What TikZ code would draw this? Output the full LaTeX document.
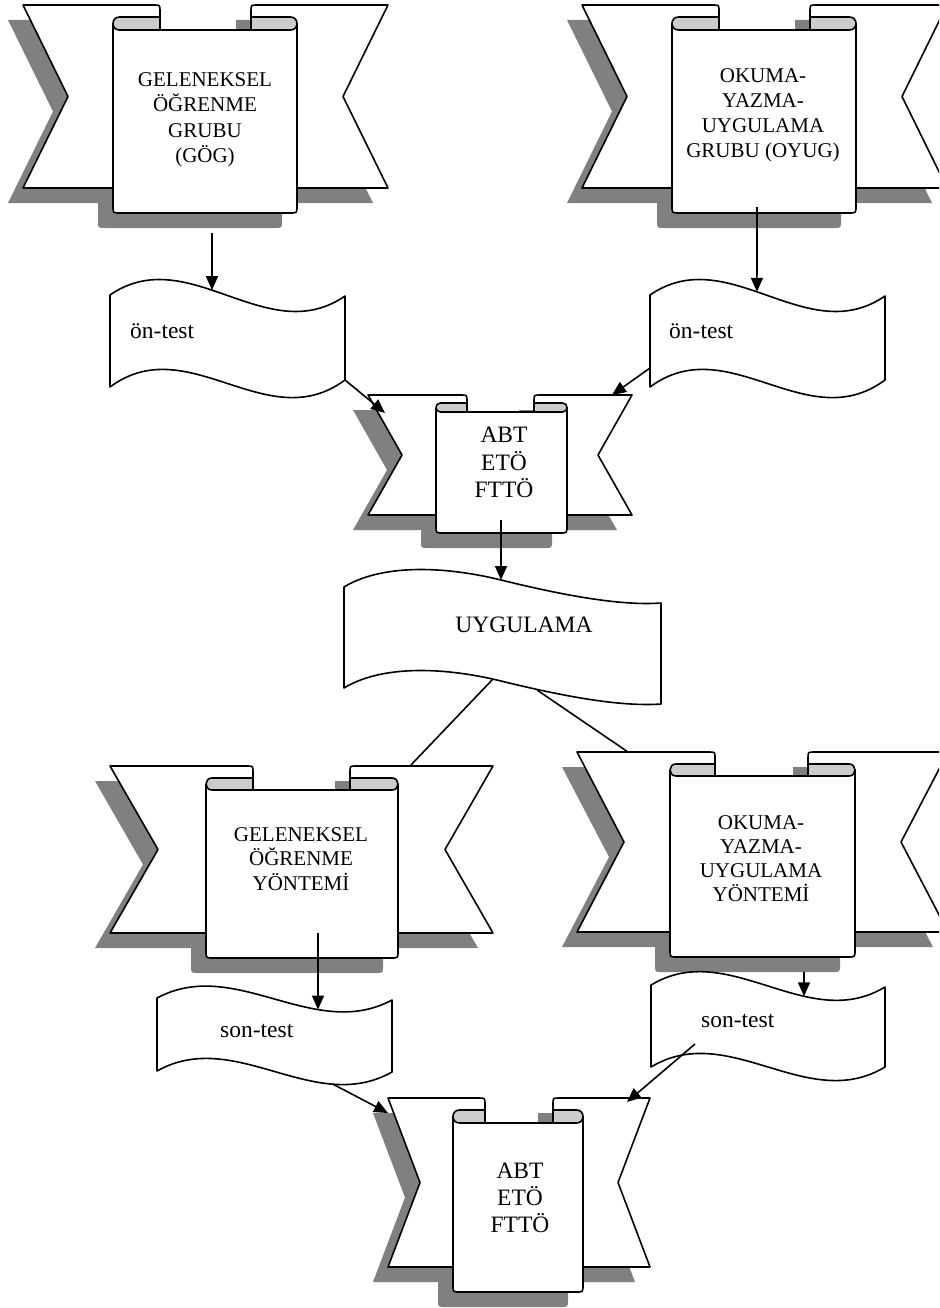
\documentclass[tikz,border=0pt]{standalone}
\usepackage{fontspec}
\setmainfont{Liberation Serif}
\usetikzlibrary{arrows.meta}
\definecolor{shadowgray}{RGB}{128,128,128}
\definecolor{curlgray}{RGB}{204,204,204}
\tikzset{
  rbline/.style={draw=black, line width=1.6pt, line join=round},
  arr/.style={draw=black, line width=1.6pt, -{Triangle[length=14pt,width=12pt]}},
  conn/.style={draw=black, line width=1.6pt},
  bigtxt/.style={inner sep=0pt, align=center, anchor=north},
  wavetxt/.style={inner sep=0pt, font=\fontsize{23.5}{28}\selectfont},
}
% ribbon: L R yTop yBot notch pL pR yRim yPanelTop | yPanelBot curlL curlR
\def\rbRibbon#1#2#3#4#5#6#7#8#9{\def\rbL{#1}\def\rbR{#2}\def\rbT{#3}\def\rbB{#4}\def\rbD{#5}\def\rbPL{#6}\def\rbPR{#7}\def\rbYR{#8}\def\rbYT{#9}\rbRibbonB}
\def\rbRibbonB#1#2#3{\def\rbYP{#1}\def\rbCL{#2}\def\rbCR{#3}\rbRibbonDraw}
\def\rbRibbonDraw{%
  \pgfmathsetmacro\rbM{(\rbT+\rbB)/2}%
  \pgfmathsetmacro\rbNL{\rbL+\rbD}%
  \pgfmathsetmacro\rbNR{\rbR-\rbD}%
  \pgfmathsetmacro\rbH{(\rbYT-\rbYR)/2}%
  \pgfmathsetmacro\rbYc{(\rbYT+\rbYR)/2}%
  \begin{scope}[shift={(-15,15)}]
    \fill[shadowgray] (\rbL,\rbT) -- (\rbCL,\rbT) -- (\rbCL,\rbB) -- (\rbL,\rbB) -- (\rbNL,\rbM) -- cycle;
    \fill[shadowgray] (\rbR,\rbT) -- (\rbCR,\rbT) -- (\rbCR,\rbB) -- (\rbR,\rbB) -- (\rbNR,\rbM) -- cycle;
    \fill[shadowgray] (\rbPL,\rbYR) -- (\rbPL,{\rbYP-7}) .. controls (\rbPL,\rbYP) .. ({\rbPL+7},\rbYP)
       -- ({\rbPR-7},\rbYP) .. controls (\rbPR,\rbYP) .. (\rbPR,{\rbYP-7}) -- (\rbPR,\rbYR) -- cycle;
  \end{scope}
  \filldraw[rbline, fill=white] (\rbL,\rbT) -- ({\rbCL-6},\rbT) .. controls (\rbCL,\rbT) .. (\rbCL,{\rbT+6})
     -- (\rbCL,\rbB) -- (\rbL,\rbB) -- (\rbNL,\rbM) -- cycle;
  \filldraw[rbline, fill=white] (\rbR,\rbT) -- ({\rbCR+6},\rbT) .. controls (\rbCR,\rbT) .. (\rbCR,{\rbT+6})
     -- (\rbCR,\rbB) -- (\rbR,\rbB) -- (\rbNR,\rbM) -- cycle;
  \fill[white] (\rbPL,\rbYc) -- (\rbPL,{\rbYP-7}) .. controls (\rbPL,\rbYP) .. ({\rbPL+7},\rbYP)
     -- ({\rbPR-7},\rbYP) .. controls (\rbPR,\rbYP) .. (\rbPR,{\rbYP-7}) -- (\rbPR,\rbYc)
     -- (\rbCR,\rbYc) -- (\rbCR,\rbYT) -- (\rbCL,\rbYT) -- (\rbCL,\rbYc) -- cycle;
  \draw[rbline] (\rbPL,\rbYc) -- (\rbPL,{\rbYP-7}) .. controls (\rbPL,\rbYP) .. ({\rbPL+7},\rbYP)
     -- ({\rbPR-7},\rbYP) .. controls (\rbPR,\rbYP) .. (\rbPR,{\rbYP-7}) -- (\rbPR,\rbYc);
  \draw[rbline] (\rbCL,\rbYT) -- (\rbCR,\rbYT);
  \filldraw[rbline, fill=curlgray] (\rbCL,\rbYT) -- ({\rbPL+\rbH},\rbYT)
     .. controls ({\rbPL-\rbH/3},\rbYT) and ({\rbPL-\rbH/3},\rbYR) .. ({\rbPL+\rbH},\rbYR) -- (\rbCL,\rbYR) -- cycle;
  \filldraw[rbline, fill=curlgray] (\rbCR,\rbYT) -- ({\rbPR-\rbH},\rbYT)
     .. controls ({\rbPR+\rbH/3},\rbYT) and ({\rbPR+\rbH/3},\rbYR) .. ({\rbPR-\rbH},\rbYR) -- (\rbCR,\rbYR) -- cycle;
}
\begin{document}
\begin{tikzpicture}[x=1pt,y=-1pt]
\useasboundingbox (0,0) rectangle (939,1308);
\clip (0,0) rectangle (939,1308);

% ribbons
\rbRibbon{23}{388}{5}{188}{45}{113}{297}{17}{30}{213}{160}{251}
\rbRibbon{582}{947}{5}{188}{45}{672}{856}{17}{30}{213}{719}{810}
\rbRibbon{368}{632}{395}{515}{34}{436}{567}{403}{412}{533}{467}{534}
\rbRibbon{110}{493}{766}{933}{48}{206}{398}{778}{790}{958}{253}{350}
\rbRibbon{577}{948}{752}{932}{47}{670}{855}{764}{776}{957}{715}{808}
\rbRibbon{388}{650}{1098}{1267}{32}{453}{583}{1110}{1123}{1292}{485}{553}

% ribbon texts
\node[bigtxt, font=\fontsize{21}{25.5}\selectfont] (gog) at (205,72) {GELENEKSEL\\ÖĞRENME\\GRUBU\\(GÖG)};
\node[bigtxt, font=\fontsize{21}{25}\selectfont] (oyug) at (763,68) {OKUMA-\\YAZMA-\\UYGULAMA\\GRUBU (OYUG)};
\node[bigtxt, font=\fontsize{23.5}{27.5}\selectfont] (abt1) at (504,427) {ABT\\ETÖ\\FTTÖ};
\node[bigtxt, font=\fontsize{21}{24.5}\selectfont] (goy) at (301,827) {GELENEKSEL\\ÖĞRENME\\YÖNTEMİ};
\node[bigtxt, font=\fontsize{21}{24}\selectfont] (oyy) at (761,815) {OKUMA-\\YAZMA-\\UYGULAMA\\YÖNTEMİ};
\node[bigtxt, font=\fontsize{23.5}{27}\selectfont] (abt2) at (520,1163) {ABT\\ETÖ\\FTTÖ};

% waves
\filldraw[rbline, fill=white] (110,295) .. controls (188.3,241) and (266.7,350) .. (345,296) coordinate[pos=0.434] (w1t)
  -- (345,380) coordinate (w1br) .. controls (266.7,438) and (188.3,329) .. (110,387) -- cycle;
\filldraw[rbline, fill=white] (650,295) .. controls (728.3,241) and (806.7,350) .. (885,296) coordinate[pos=0.455] (w2t)
  -- (885,380) .. controls (806.7,438) and (728.3,329) .. (650,387) -- cycle;
\coordinate (w2l) at (650,368);
\filldraw[rbline, fill=white] (344,587) .. controls (380,565) and (440,565) .. (501,580) coordinate (uyt)
  .. controls (562,595) and (620,606) .. (661,603) -- (661,704)
  .. controls (620,707) and (562,696) .. (501,681) .. controls (440,666) and (380,666) .. (344,688) -- cycle;
\coordinate (uyb1) at (493,679);
\coordinate (uyb2) at (537,690);
\filldraw[rbline, fill=white] (157,998) .. controls (235.3,956) and (313.7,1042) .. (392,1000) coordinate[pos=0.685] (w3t)
  -- (392,1072) .. controls (313.7,1116) and (235.3,1027) .. (157,1071) coordinate[pos=0.251] (w3b) -- cycle;
\filldraw[rbline, fill=white] (651,985) .. controls (729,938) and (807,1034) .. (885,987) coordinate[pos=0.654] (w4t)
  -- (885,1067) .. controls (807,1114) and (729,1020) .. (651,1067) -- cycle;
\coordinate (w4in) at (695,1044);

% wave texts
\node[wavetxt, anchor=base west] (on1) at (130,338) {ön-test};
\node[wavetxt, anchor=base west] (on2) at (669,338) {ön-test};
\node[wavetxt, anchor=base] (uyg) at (524,632) {UYGULAMA};
\node[wavetxt, anchor=base west] (son1) at (220,1037) {son-test};
\node[wavetxt, anchor=base west] (son2) at (701,1027) {son-test};

% connector end points on ribbons
\coordinate (r1out) at (212,233);
\coordinate (r2out) at (757,207);
\coordinate (r3inL) at (385,413);
\coordinate (r3inR) at (612,395);
\coordinate (r3out) at (501,520);
\coordinate (r4in) at (410,766);
\coordinate (r5in) at (628,752);
\coordinate (r4out) at (318,933);
\coordinate (r5out) at (804,972);
\coordinate (r6inL) at (388,1113);
\coordinate (r6inR) at (627,1102);

% connectors
\draw[arr] (r1out) -- (w1t);
\draw[arr] (r2out) -- (w2t);
\draw[arr] (w1br) -- (r3inL);
\draw[arr] (w2l) -- (r3inR);
\draw[arr] (r3out) -- (uyt);
\draw[conn] (uyb1) -- (r4in);
\draw[conn] (uyb2) -- (r5in);
\draw[arr] (r4out) -- (w3t);
\draw[arr] (r5out) -- (w4t);
\draw[arr] (w3b) -- (r6inL);
\draw[arr] (w4in) -- (r6inR);
\end{tikzpicture}
\end{document}
